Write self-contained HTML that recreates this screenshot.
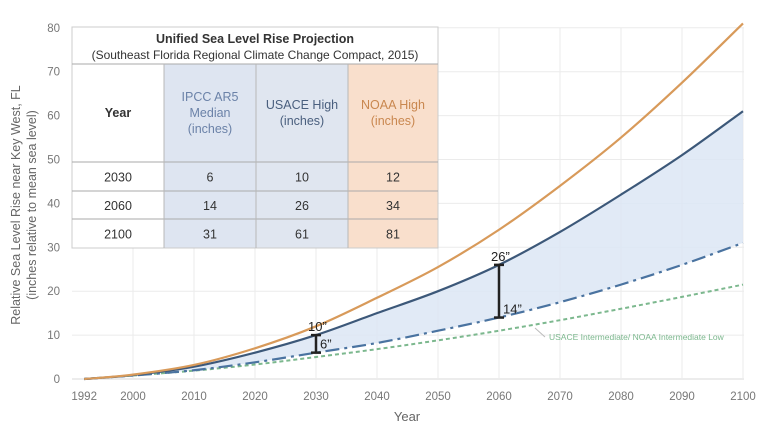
<!DOCTYPE html>
<html><head><meta charset="utf-8"><style>
body{margin:0;background:#fff;}
svg{display:block;font-family:"Liberation Sans",sans-serif;}
</style></head><body>
<svg id="chart" width="765" height="433" viewBox="0 0 765 433">
<g id="grid"></g>
<g id="axes"></g>
<g id="series"></g>
<g id="table"></g>
<g id="notes"></g>
<text x="20" y="205" transform="rotate(-90 20 205)" text-anchor="middle" font-size="12.5" fill="#666">Relative Sea Level Rise near Key West, FL</text>
<text x="36" y="205" transform="rotate(-90 36 205)" text-anchor="middle" font-size="12.5" fill="#666">(inches relative to mean sea level)</text>
<text x="407" y="421" text-anchor="middle" font-size="13" fill="#666">Year</text>
</svg>
<script>
const years=[1992,2000,2010,2020,2030,2040,2050,2060,2070,2080,2090,2100];
const noaaHigh=[0,1,3.2,7,12,18.5,25.5,34,44,55,67.5,81];
const usaceHigh=[0,0.9,2.8,6,10,15,20,26,33.5,42,51,61];
const ipccMedian=[0,0.8,2.0,3.8,6,8.2,11,14,17.5,21.5,26,31];
const intermediate=[0,0.8,1.9,3.3,5,6.8,8.8,11,13.4,16,18.7,21.5];
const yTicks=[0,10,20,30,40,50,60,70,80];
const xTicks=[1992,2000,2010,2020,2030,2040,2050,2060,2070,2080,2090,2100];
const gapYears=[2030,2060];
const gapTop=[10,26];
const gapBottom=[6,14];

const NS="http://www.w3.org/2000/svg";
const X=y=>133+(y-2000)*6.1;
const Y=v=>379-v*4.39;
function mk(tag,attrs,parent,text){const e=document.createElementNS(NS,tag);for(const k in attrs)e.setAttribute(k,attrs[k]);if(text!==undefined)e.textContent=text;parent.appendChild(e);return e;}
function pts(vals){return years.map((yr,i)=>[X(yr),Y(vals[i])]);}
function spline(p){let d="M"+p[0][0]+","+p[0][1];for(let i=0;i<p.length-1;i++){const p0=p[i-1]||p[i],p1=p[i],p2=p[i+1],p3=p[i+2]||p2;const c1=[p1[0]+(p2[0]-p0[0])/6,p1[1]+(p2[1]-p0[1])/6],c2=[p2[0]-(p3[0]-p1[0])/6,p2[1]-(p3[1]-p1[1])/6];d+=" C"+c1+" "+c2+" "+p2;}return d;}
function splineRev(p){const r=p.slice().reverse();return spline(r).replace(/^M/,"L");}

const grid=document.getElementById('grid'),axes=document.getElementById('axes'),series=document.getElementById('series');
yTicks.forEach(v=>{
 const l=mk('line',{x1:72,x2:744,y1:Y(v),y2:Y(v),stroke:v===0?'#d9d9d9':'#ebebeb','stroke-width':1},grid);
 
 const t=mk('text',{x:60,y:Y(v)+4,'text-anchor':'end','font-size':11.5,fill:'#777'},axes,String(v));
 
});
xTicks.forEach(yr=>{
 if(yr!==1992){const l=mk('line',{x1:X(yr),x2:X(yr),y1:Y(80),y2:Y(0),stroke:'#ebebeb','stroke-width':1},grid);
 }
 const t=mk('text',{x:X(yr),y:400,'text-anchor':'middle','font-size':11.5,fill:'#777'},axes,String(yr));
 
});
const band=mk('path',{d:spline(pts(usaceHigh))+" "+splineRev(pts(ipccMedian))+" Z",fill:'#dce6f4',opacity:0.85},series);

const s1=mk('path',{d:spline(pts(intermediate)),fill:'none',stroke:'#7cb88e','stroke-width':2,'stroke-dasharray':'4 3'},series);

const s2=mk('path',{d:spline(pts(ipccMedian)),fill:'none',stroke:'#4a73a0','stroke-width':2.2,'stroke-dasharray':'14 5 3 5'},series);

const s3=mk('path',{d:spline(pts(usaceHigh)),fill:'none',stroke:'#3c5879','stroke-width':2.2},series);

const s4=mk('path',{d:spline(pts(noaaHigh)),fill:'none',stroke:'#d89a5a','stroke-width':2.2},series);


const notes=document.getElementById('notes');
gapYears.forEach((yr,i)=>{
 const x=X(yr),y1=Y(gapTop[i]),y2=Y(gapBottom[i]);
 const g=mk('g',{},notes);
 mk('line',{x1:x,x2:x,y1:y1,y2:y2,stroke:'#222','stroke-width':2.5},g);
 mk('line',{x1:x-5,x2:x+5,y1:y1,y2:y1,stroke:'#222','stroke-width':2.5},g);
 mk('line',{x1:x-5,x2:x+5,y1:y2,y2:y2,stroke:'#222','stroke-width':2.5},g);
 const a=mk('text',{x:x-8,y:y1-4,'font-size':13,fill:'#222'},notes,gapTop[i]+'\u201D');
 
 const b=mk('text',{x:x+4,y:y2-4,'font-size':13,fill:'#222'},notes,gapBottom[i]+'\u201D');
 
});
mk('line',{x1:535,y1:328,x2:545,y2:337,stroke:'#bbb','stroke-width':1},notes);
const il=mk('text',{x:549,y:340,'font-size':8.5,fill:'#7cb88e'},notes,'USACE Intermediate/ NOAA Intermediate Low');


const tb=document.getElementById('table');
const cols=[72,164,256,348,438];
const rowsY=[27,64,162,191,219,248];
mk('rect',{x:72,y:27,width:366,height:221,fill:'#fff'},tb);
mk('rect',{x:164,y:64,width:92,height:184,fill:'#dee5f1'},tb);
mk('rect',{x:256,y:64,width:92,height:184,fill:'#e0e6f0'},tb);
mk('rect',{x:348,y:64,width:90,height:184,fill:'#f9dfcc'},tb);
mk('rect',{x:72,y:27,width:366,height:221,fill:'none',stroke:'#ccc'},tb);
[64,162,191,219].forEach(y=>mk('line',{x1:72,x2:438,y1:y,y2:y,stroke:'#aaa'},tb));
[164,256,348].forEach(x=>mk('line',{x1:x,x2:x,y1:64,y2:248,stroke:'#b8b8b8'},tb));
const t1=mk('text',{x:255,y:43,'text-anchor':'middle','font-size':12.5,'font-weight':'bold',fill:'#333'},tb,'Unified Sea Level Rise Projection');

const t2=mk('text',{x:255,y:59,'text-anchor':'middle','font-size':12,fill:'#333'},tb,'(Southeast Florida Regional Climate Change Compact, 2015)');

const hdr=[[['Year'],'#333'],[['IPCC AR5','Median','(inches)'],'#6b82a8'],[['USACE High','(inches)'],'#4a5f7e'],[['NOAA High','(inches)'],'#c9874f']];
hdr.forEach((h,i)=>{const cx=(cols[i]+cols[i+1])/2,n=h[0].length;h[0].forEach((s,j)=>{
 const t=mk('text',{x:cx,y:117+(j-(n-1)/2)*16,'text-anchor':'middle','font-size':12.5,'font-weight':i===0?'bold':'normal',fill:h[1]},tb,s);
 });});
const tableYears=[2030,2060,2100],tIpcc=[6,14,31],tUsace=[10,26,61],tNoaa=[12,34,81];
tableYears.forEach((yr,r)=>{[yr,tIpcc[r],tUsace[r],tNoaa[r]].forEach((v,c)=>{
 const t=mk('text',{x:(cols[c]+cols[c+1])/2,y:(rowsY[r+2]+rowsY[r+3])/2+5,'text-anchor':'middle','font-size':12.5,fill:'#333'},tb,String(v));
 });});
</script>
</body></html>
